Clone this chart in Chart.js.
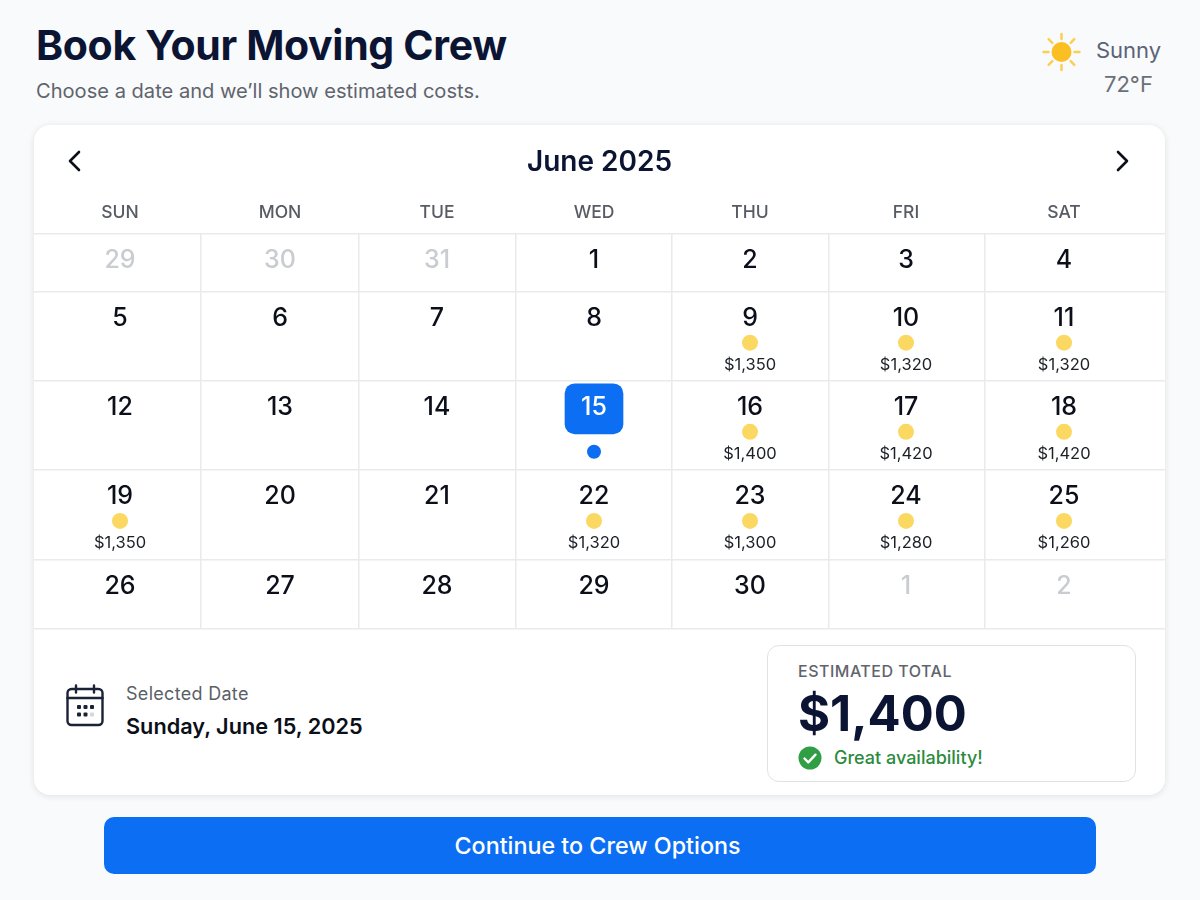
<!DOCTYPE html>
<html>
<head>
<meta charset="utf-8">
<title>Book Your Moving Crew</title>
<script src="https://cdn.jsdelivr.net/npm/chart.js@4"></script>
<style>
  html, body { margin: 0; padding: 0; }
  body { width: 1200px; height: 900px; background: #f9fafb; font-family: Inter, sans-serif; position: relative; overflow: hidden; }
  .t { position: absolute; white-space: nowrap; line-height: 1; }
  #card { position: absolute; left: 34px; top: 125px; width: 1131px; height: 670px; background: #fff; border-radius: 16px; box-shadow: 0 1px 6px rgba(20, 30, 50, .12); }
  #calendar { position: absolute; left: 0; top: 0; }
  #totalBox { position: absolute; left: 767px; top: 645px; width: 367px; height: 135px; border: 1.5px solid #e0e2e6; border-radius: 12px; background: #fff; }
  #cta { position: absolute; left: 104px; top: 817px; width: 992px; height: 57px; background: #0b6ef3; border-radius: 10px; color: #fff; font-size: 23.3px; font-weight: 500; text-align: center; line-height: 58px; text-indent: -5px; }
  svg { position: absolute; }
</style>
</head>
<body>
<div class="t" style="left:36px;top:25px;font-size:41px;font-weight:700;letter-spacing:-.33px;color:#0b1533">Book Your Moving Crew</div>
<div class="t" style="left:36px;top:81px;font-size:20.100px;color:#5f646d">Choose a date and we’ll show estimated costs.</div>

<svg style="left:1040px;top:30px" width="44" height="44" viewBox="0 0 44 44">
  <circle cx="21.5" cy="22" r="10" fill="#fbbf24"/>
  <g stroke="#fbcf55" stroke-width="2.5" stroke-linecap="round">
    <path d="M21.5 4v5M21.5 35v5M3.500 22h5M34.500 22h5M8.700 9.200l3.600 3.600M30.700 31.200l3.600 3.600M8.700 34.800l3.600-3.600M30.700 12.800l3.600-3.600"/>
  </g>
</svg>
<div class="t" style="left:1096px;top:39px;font-size:22px;color:#5a6378">Sunny</div>
<div class="t" style="left:1104px;top:73px;font-size:22px;color:#6b7078">72°F</div>

<div id="card"><canvas id="calendar" width="1131" height="505"></canvas></div>

<svg style="left:62px;top:148px" width="24" height="26" viewBox="0 0 24 26"><path d="M17 4 8 13l9 9" fill="none" stroke="#0b0f19" stroke-width="2.6" stroke-linecap="round" stroke-linejoin="round"/></svg>
<svg style="left:1111px;top:148px" width="24" height="26" viewBox="0 0 24 26"><path d="m7 4 9 9-9 9" fill="none" stroke="#0b0f19" stroke-width="2.6" stroke-linecap="round" stroke-linejoin="round"/></svg>

<svg style="left:64px;top:683px" width="42" height="46" viewBox="0 0 42 46">
  <rect x="3.500" y="6" width="35" height="36" rx="4" fill="none" stroke="#1a2238" stroke-width="2.400"/>
  <path d="M3.500 15h35M12 2.500v7M30 2.500v7" fill="none" stroke="#1a2238" stroke-width="2.400" stroke-linecap="round"/>
  <g fill="#1a2238"><rect x="13" y="22" width="4" height="4" rx="1"/><rect x="19.500" y="22" width="4" height="4" rx="1"/><rect x="26" y="22" width="4" height="4" rx="1"/><rect x="13" y="29.500" width="4" height="4" rx="1"/><rect x="19.500" y="29.500" width="4" height="4" rx="1"/></g>
  <rect x="26" y="29.500" width="4" height="4" rx="1" fill="#d5d7dc"/>
</svg>
<div class="t" style="left:126px;top:685px;font-size:18px;letter-spacing:.3px;color:#5a5f68">Selected Date</div>
<div class="t" style="left:126px;top:716px;font-size:21.700px;font-weight:600;color:#0b0f19">Sunday, June 15, 2025</div>

<div id="totalBox"></div>
<div class="t" style="left:798px;top:663px;font-size:16px;font-weight:500;letter-spacing:.5px;color:#5f646d">ESTIMATED TOTAL</div>
<div class="t" style="left:798px;top:689px;font-size:49px;font-weight:700;color:#0b1533">$1,400</div>
<svg style="left:798px;top:746px" width="24" height="24" viewBox="0 0 24 24"><circle cx="12" cy="12" r="11.500" fill="#2f9e44"/><path d="m6.500 12.500 3.800 3.800 7.200-7.600" fill="none" stroke="#fff" stroke-width="2.400" stroke-linecap="round" stroke-linejoin="round"/></svg>
<div class="t" style="left:834px;top:749px;font-size:18px;font-weight:500;color:#2c8a3e">Great availability!</div>

<div id="cta">Continue to Crew Options</div>

<script>
const monthTitle = 'June 2025';
const weekdays = ['SUN', 'MON', 'TUE', 'WED', 'THU', 'FRI', 'SAT'];
const weeks = [
  [29, 30, 31, 1, 2, 3, 4],
  [5, 6, 7, 8, 9, 10, 11],
  [12, 13, 14, 15, 16, 17, 18],
  [19, 20, 21, 22, 23, 24, 25],
  [26, 27, 28, 29, 30, 1, 2]
];
const outsideMonth = [
  [true, true, true, false, false, false, false],
  [false, false, false, false, false, false, false],
  [false, false, false, false, false, false, false],
  [false, false, false, false, false, false, false],
  [false, false, false, false, false, true, true]
];
const prices = [
  [null, null, null, null, null, null, null],
  [null, null, null, null, 1350, 1320, 1320],
  [null, null, null, null, 1400, 1420, 1420],
  [1350, null, null, 1320, 1300, 1280, 1260],
  [null, null, null, null, null, null, null]
];
const selectedWeek = 2;
const selectedColumn = 3;

// layout of the grid, in canvas px from the grid's top left corner
const colCentres = [86, 246, 403, 560, 716, 872, 1030];
const colLines = [167, 325, 482, 638, 795, 951];
const rowLines = [0, 58, 147, 236, 326, 395];
const numberOffset = 27, dotOffset = 51, priceOffset = 73.5;

const dayPoints = [], dayColors = [];
const pricePoints = [], dotPoints = [];
weeks.forEach((week, r) => {
  week.forEach((day, c) => {
    const top = rowLines[r];
    const isSelected = r === selectedWeek && c === selectedColumn;
    dayPoints.push({ x: colCentres[c], y: top + numberOffset, text: String(day) });
    dayColors.push(isSelected ? '#ffffff' : outsideMonth[r][c] ? '#c9ccd1' : '#0b0f19');
    const price = prices[r][c];
    if (price !== null) {
      dotPoints.push({ x: colCentres[c], y: top + dotOffset });
      pricePoints.push({ x: colCentres[c], y: top + priceOffset, text: '$' + price.toLocaleString('en-US') });
    }
  });
});

const selTop = rowLines[selectedWeek];

const cellText = {
  id: 'cellText',
  afterDatasetsDraw(chart) {
    const ctx = chart.ctx;
    chart.data.datasets.forEach((ds, i) => {
      if (!ds.textFont) return;
      const meta = chart.getDatasetMeta(i);
      ctx.save();
      ctx.font = ds.textFont;
      ctx.textAlign = 'center';
      ctx.textBaseline = 'middle';
      meta.data.forEach((pt, j) => {
        ctx.fillStyle = ds.textColors ? ds.textColors[j] : ds.textColor;
        ctx.fillText(ds.data[j].text, pt.x, pt.y);
      });
      ctx.restore();
    });
  }
};

new Chart(document.getElementById('calendar'), {
  data: {
    datasets: [
      {
        type: 'bar',
        data: [{ x: colCentres[selectedColumn], y: [selTop + 3, selTop + 53] }],
        backgroundColor: '#0b6ef3',
        barThickness: 58,
        borderRadius: 10,
        borderSkipped: false
      },
      {
        type: 'scatter',
        data: dotPoints,
        pointRadius: 8,
        pointBackgroundColor: '#fbd862',
        pointBorderWidth: 0
      },
      {
        type: 'scatter',
        data: [{ x: colCentres[selectedColumn], y: selTop + 71 }],
        pointRadius: 7,
        pointBackgroundColor: '#0b6ef3',
        pointBorderWidth: 0
      },
      {
        type: 'scatter',
        data: dayPoints,
        pointRadius: 0,
        textFont: '500 25px Inter',
        textColors: dayColors
      },
      {
        type: 'scatter',
        data: pricePoints,
        pointRadius: 0,
        textFont: '400 16.5px Inter',
        textColor: '#1c2027'
      }
    ]
  },
  options: {
    responsive: false,
    animation: false,
    events: [],
    layout: { autoPadding: false, padding: { bottom: 1 } },
    plugins: {
      legend: { display: false },
      tooltip: { enabled: false },
      title: {
        display: true,
        text: monthTitle,
        color: '#0b1533',
        font: { family: 'Inter', size: 28, weight: '600' },
        padding: { top: 21, bottom: 0 }
      }
    },
    scales: {
      x: {
        type: 'linear',
        position: 'top',
        offset: false,
        min: 0,
        max: 1131,
        grid: { display: false },
        border: { display: false },
        afterBuildTicks(scale) { scale.ticks = colCentres.map(v => ({ value: v })); },
        afterFit(scale) { scale.height = 54; },
        ticks: {
          autoSkip: false,
          maxRotation: 0,
          padding: 2,
          color: '#565b64',
          font: { family: 'Inter', size: 17.5, weight: '500' },
          callback: (v, i) => weekdays[i]
        }
      },
      xLines: {
        type: 'linear',
        axis: 'x',
        position: 'bottom',
        min: 0,
        max: 1131,
        border: { display: false },
        afterBuildTicks(scale) { scale.ticks = colLines.map(v => ({ value: v })); },
        afterFit(scale) { scale.height = 0; },
        grid: { color: '#e9eaec', lineWidth: 1.5, drawTicks: false },
        ticks: { display: false, autoSkip: false }
      },
      y: {
        type: 'linear',
        reverse: true,
        min: 0,
        max: 395,
        border: { display: false },
        afterBuildTicks(scale) { scale.ticks = rowLines.map(v => ({ value: v })); },
        afterFit(scale) { scale.width = 0; },
        grid: { color: '#e9eaec', lineWidth: 1.5, drawTicks: false },
        ticks: { display: false, autoSkip: false }
      }
    }
  },
  plugins: [cellText]
});
</script>
</body>
</html>
